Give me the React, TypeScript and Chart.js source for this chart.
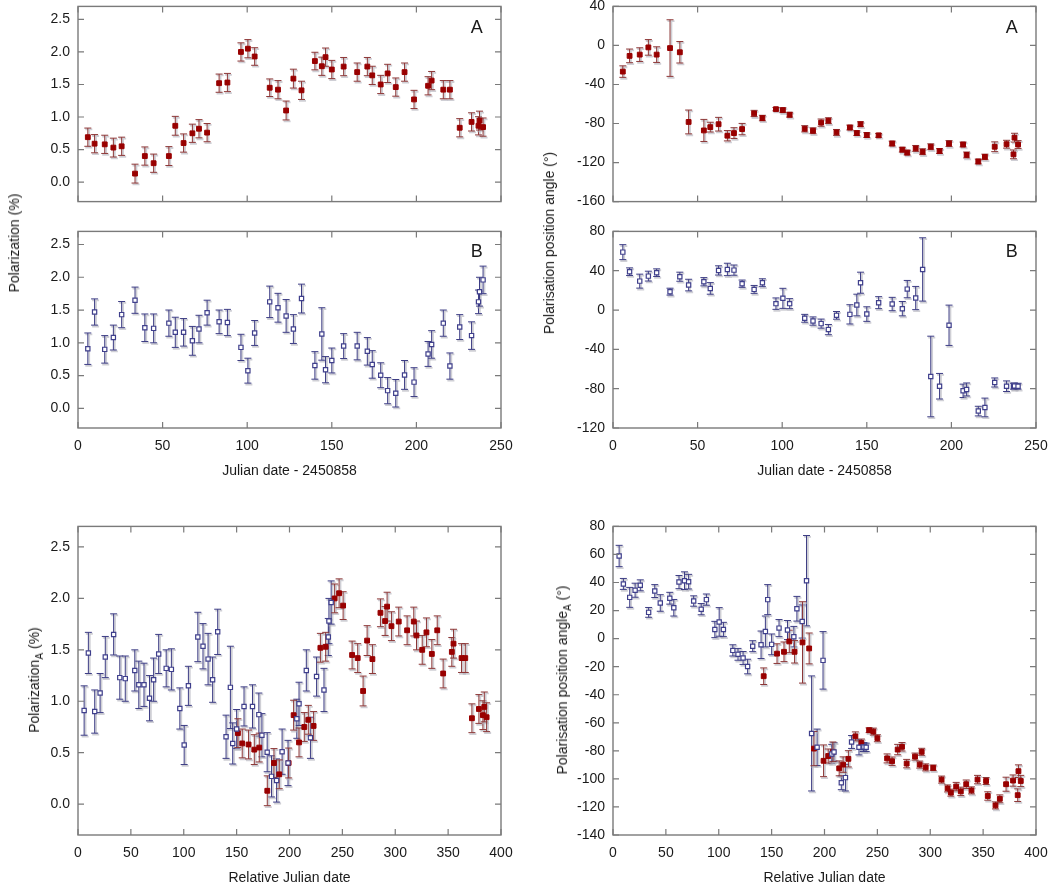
import React, { useEffect, useRef } from 'react';
import { Chart, registerables } from 'chart.js';

Chart.register(...registerables);

// ---------- data ----------
const dates = [5.8, 9.8, 15.8, 20.9, 25.8, 33.7, 39.5, 44.7, 53.7, 57.5, 62.4, 67.6, 71.5, 76.3, 83.4, 88.3, 96.3, 100.4, 104.4, 113.3, 118.2, 123, 127.3, 132.1, 140, 144.1, 146.3, 150, 157, 165, 171, 173.9, 178.9, 183, 187.8, 193, 198.6, 206.9, 209, 215.9, 219.8, 225.6, 232.6, 236.7, 237.3, 239.4];

const polA = [0.69, 0.59, 0.58, 0.53, 0.55, 0.13, 0.4, 0.29, 0.4, 0.865, 0.6, 0.75, 0.82, 0.76, 1.52, 1.53, 2.0, 2.05, 1.93, 1.45, 1.42, 1.1, 1.59, 1.41, 1.86, 1.78, 1.92, 1.73, 1.775, 1.69, 1.775, 1.64, 1.5, 1.67, 1.46, 1.69, 1.27, 1.48, 1.56, 1.42, 1.42, 0.835, 0.925, 0.865, 0.945, 0.845];
const polAErr = [0.14, 0.14, 0.14, 0.145, 0.14, 0.145, 0.14, 0.14, 0.145, 0.145, 0.14, 0.14, 0.14, 0.14, 0.14, 0.14, 0.14, 0.14, 0.135, 0.135, 0.14, 0.145, 0.145, 0.14, 0.135, 0.14, 0.14, 0.14, 0.14, 0.14, 0.14, 0.14, 0.14, 0.14, 0.14, 0.14, 0.14, 0.14, 0.14, 0.14, 0.14, 0.14, 0.14, 0.14, 0.145, 0.14];

const polB = [0.91, 1.47, 0.9, 1.08, 1.43, 1.65, 1.23, 1.22, 1.3, 1.16, 1.16, 1.03, 1.21, 1.46, 1.32, 1.31, 0.93, 0.575, 1.15, 1.625, 1.535, 1.41, 1.21, 1.675, 0.655, 1.135, 0.59, 0.73, 0.95, 0.95, 0.87, 0.67, 0.505, 0.27, 0.23, 0.51, 0.4, 0.83, 0.975, 1.3, 0.645, 1.24, 1.11, 1.625, 1.78, 1.96];
const polBErr = [0.24, 0.2, 0.21, 0.19, 0.2, 0.2, 0.21, 0.22, 0.2, 0.23, 0.21, 0.22, 0.21, 0.19, 0.18, 0.2, 0.2, 0.19, 0.19, 0.24, 0.22, 0.25, 0.22, 0.22, 0.21, 0.4, 0.2, 0.19, 0.19, 0.21, 0.21, 0.21, 0.19, 0.2, 0.21, 0.22, 0.22, 0.19, 0.21, 0.2, 0.2, 0.19, 0.21, 0.18, 0.22, 0.21];

const angA = [-26.8, -10.7, -9.4, -2, -9.4, -2.7, -7, -78.4, -87.1, -83.7, -80.7, -92.5, -89.8, -85.7, -69.7, -74.4, -65.3, -66.3, -71, -85.4, -87.4, -79.1, -77.1, -89.1, -84.1, -89.8, -80.7, -91.8, -92.1, -100.5, -106.8, -109.8, -105.5, -108.9, -103.8, -108.2, -100.5, -101.5, -112.2, -118.9, -114.2, -103.8, -101.2, -111.6, -94.5, -101.5];
const angAErr = [5.9, 7, 7, 8, 8, 29, 11, 12.2, 11.3, 5, 7, 5.3, 5.5, 5.8, 3.2, 2.8, 1.7, 2.5, 2.5, 3.2, 3, 3.7, 3, 3, 2.5, 2.5, 2.5, 2.5, 2, 2.5, 2.5, 2.5, 3, 3, 3, 2.5, 3, 2.5, 3, 2.5, 2.8, 5, 4, 4.5, 4.5, 4];

const angB = [58.9, 39, 29.4, 34.5, 38, 18.7, 33.9, 25.4, 28.8, 22, 40.3, 41.3, 40.6, 26.8, 21, 27.8, 6.5, 11.9, 6.5, -8.4, -11.2, -13.8, -19.9, -5.4, -4.4, 5.1, 27.8, -4.1, 7.5, 6.1, 1.4, 21.3, 12.2, 41.3, -67.6, -77.5, -15.5, -82.2, -80.8, -102.8, -99.1, -73.7, -77.5, -77.5, -77.2, -77.5];
const angBErr = [7.6, 3.9, 7.1, 5, 3.9, 3.5, 4.6, 5.9, 4.2, 5.9, 4.7, 6.3, 5.2, 3.7, 4, 4, 5.8, 10.2, 5.1, 4, 4.2, 4.6, 5.2, 3.9, 9.8, 11, 10.7, 7.4, 6.1, 6.8, 7.3, 8.8, 11.8, 32.2, 41, 13, 20.5, 6.8, 6.6, 4.9, 9.5, 4.6, 5.4, 3, 3, 3];

// relative (time-delay shifted) dates of the A image, as plotted in the lower panels
const relDatesPolA = [151.2, 155.3, 161.3, 166.7, 171.4, 179, 185.3, 190.3, 199.2, 203.9, 209, 214, 217.8, 222.8, 229.2, 234.2, 242.7, 246.9, 250.7, 259.2, 264.5, 269.6, 273.4, 278.4, 286, 290.4, 292.3, 296.4, 303.3, 311.2, 317.5, 320.1, 325.5, 329.5, 334.6, 339.7, 345.3, 353.5, 355.1, 362.7, 366.2, 372.5, 379.1, 382.9, 384.2, 386.4];
const relDatesAngA = [142.5, 155.1, 161.7, 166.7, 171.7, 179.2, 185.5, 190, 199.1, 203.5, 207.9, 213.9, 217.6, 222.6, 229.2, 234.9, 242.2, 246.2, 250, 259.2, 263.9, 269.2, 273.3, 277.7, 285.6, 290, 291.9, 295.7, 302.8, 310.7, 316.4, 319.5, 324.5, 328.9, 334, 339, 344.7, 352.8, 354.4, 361.7, 365.8, 371.7, 378.3, 382.7, 383.4, 385.6];

// tick values
const xTicksJD = [0, 50, 100, 150, 200, 250];
const xTicksRel = [0, 50, 100, 150, 200, 250, 300, 350, 400];
const polTicks = [0, 0.5, 1.0, 1.5, 2.0, 2.5];
const angTicksA = [-160, -120, -80, -40, 0, 40];
const angTicksB = [-120, -80, -40, 0, 40, 80];
const angTicksRel = [-140, -120, -100, -80, -60, -40, -20, 0, 20, 40, 60, 80];

// ---------- styling ----------
const FONT = '"Liberation Sans", Arial, Helvetica, sans-serif';
const RED = '#990000';
const RED_BAR = '#8c3636';
const BLUE = '#3f3f8c';
const BLUE_BAR = '#3c3c84';

const errorBarPlugin = {
  id: 'errorBars',
  beforeDatasetsDraw(chart: any) {
    const { ctx } = chart;
    const xs = chart.scales.x;
    const ys = chart.scales.y;
    chart.data.datasets.forEach((ds: any) => {
      const errs: number[] = ds.errors;
      if (!errs) return;
      ctx.save();
      const cw = 3.5;
      ds.data.forEach((p: any, j: number) => {
        const px = xs.getPixelForValue(p.x);
        const yt = ys.getPixelForValue(p.y + errs[j]);
        const yb = ys.getPixelForValue(p.y - errs[j]);
        // soft grey shadow
        ctx.strokeStyle = 'rgba(175,175,185,0.6)';
        ctx.lineWidth = 1.8;
        ctx.beginPath();
        ctx.moveTo(px + 1.4, yt + 1);
        ctx.lineTo(px + 1.4, yb + 1);
        ctx.moveTo(px - cw + 1, yt + 1.4);
        ctx.lineTo(px + cw + 1, yt + 1.4);
        ctx.moveTo(px - cw + 1, yb + 1.4);
        ctx.lineTo(px + cw + 1, yb + 1.4);
        ctx.stroke();
        // bar
        ctx.strokeStyle = ds.barColor;
        ctx.lineWidth = 1;
        ctx.beginPath();
        ctx.moveTo(px, yt);
        ctx.lineTo(px, yb);
        ctx.moveTo(px - cw, yt);
        ctx.lineTo(px + cw, yt);
        ctx.moveTo(px - cw, yb);
        ctx.lineTo(px + cw, yb);
        ctx.stroke();
      });
      ctx.restore();
    });
  },
};

const framePlugin = {
  id: 'frameTicks',
  afterDatasetsDraw(chart: any) {
    const { ctx, chartArea: a } = chart;
    const xs = chart.scales.x;
    const ys = chart.scales.y;
    ctx.save();
    ctx.strokeStyle = '#7a7a7a';
    ctx.lineWidth = 1.4;
    ctx.strokeRect(a.left, a.top, a.right - a.left, a.bottom - a.top);
    ctx.lineWidth = 1.2;
    ctx.beginPath();
    xs.ticks.forEach((t: any) => {
      const p = xs.getPixelForValue(t.value);
      ctx.moveTo(p, a.bottom);
      ctx.lineTo(p, a.bottom - 6);
      ctx.moveTo(p, a.top);
      ctx.lineTo(p, a.top + 6);
    });
    ys.ticks.forEach((t: any) => {
      const p = ys.getPixelForValue(t.value);
      ctx.moveTo(a.left, p);
      ctx.lineTo(a.left + 6, p);
      ctx.moveTo(a.right, p);
      ctx.lineTo(a.right - 6, p);
    });
    ctx.stroke();
    ctx.restore();
  },
};

type Series = { x: number[]; y: number[]; err: number[]; kind: 'A' | 'B' };

type PanelProps = {
  L: number; T: number; R: number; B: number;
  xMin: number; xMax: number; xTicks: number[]; showX: boolean;
  yMin: number; yMax: number; yTicks: number[]; yDec: number;
  series: Series[];
};

const YW = 75;
const PT = 15;
const PR = 22;

function Panel(p: PanelProps) {
  const ref = useRef<HTMLCanvasElement>(null);
  const XH = p.showX ? 45 : 15;
  const w = p.R - p.L + YW + PR;
  const h = p.B - p.T + PT + XH;

  useEffect(() => {
    if (!ref.current) return;
    const datasets = p.series.map((s) => ({
      data: s.x.map((xv, i) => ({ x: xv, y: s.y[i] })),
      errors: s.err,
      barColor: s.kind === 'A' ? RED_BAR : BLUE_BAR,
      pointStyle: 'rect',
      pointRadius: s.kind === 'A' ? 3.4 : 3.0,
      pointBackgroundColor: s.kind === 'A' ? RED : '#ffffff',
      pointBorderColor: s.kind === 'A' ? RED : BLUE,
      pointBorderWidth: s.kind === 'A' ? 1 : 1.2,
      showLine: false,
    }));
    const tickFont = { family: FONT, size: 14 };
    const chart = new Chart(ref.current, {
      type: 'scatter',
      data: { datasets: datasets as any },
      plugins: [errorBarPlugin, framePlugin],
      options: {
        responsive: false,
        animation: false,
        events: [],
        layout: { padding: { left: 0, right: PR, top: PT, bottom: 0 } },
        plugins: { legend: { display: false }, tooltip: { enabled: false } },
        scales: {
          x: {
            type: 'linear',
            position: 'bottom',
            min: p.xMin,
            max: p.xMax,
            grid: { display: false, drawTicks: false },
            border: { display: false },
            afterBuildTicks: (ax: any) => {
              ax.ticks = p.xTicks.map((v) => ({ value: v }));
            },
            afterFit: (ax: any) => {
              ax.height = XH;
            },
            ticks: {
              display: p.showX,
              padding: 10,
              font: tickFont,
              color: '#1a1a1a',
              maxRotation: 0,
              autoSkip: false,
              callback: (v: any) => String(v),
            },
          },
          y: {
            type: 'linear',
            position: 'left',
            min: p.yMin,
            max: p.yMax,
            grid: { display: false, drawTicks: false },
            border: { display: false },
            afterBuildTicks: (ax: any) => {
              ax.ticks = p.yTicks.map((v) => ({ value: v }));
            },
            afterFit: (ax: any) => {
              ax.width = YW;
            },
            ticks: {
              padding: 8,
              font: tickFont,
              color: '#1a1a1a',
              autoSkip: false,
              callback: (v: any) => Number(v).toFixed(p.yDec),
            },
          },
        },
      } as any,
    });
    return () => chart.destroy();
  }, []);

  return (
    <canvas
      ref={ref}
      width={w}
      height={h}
      style={{ position: 'absolute', left: p.L - YW, top: p.T - PT, width: w, height: h }}
    />
  );
}

function Label(props: { x: number; y: number; rotate?: boolean; size?: number; children: any }) {
  return (
    <div
      style={{
        position: 'absolute',
        left: props.x,
        top: props.y,
        transform: `translate(-50%, -50%)${props.rotate ? ' rotate(-90deg)' : ''}`,
        whiteSpace: 'nowrap',
        fontFamily: FONT,
        fontSize: props.size ?? 14,
        color: '#1a1a1a',
        lineHeight: 1,
      }}
    >
      {props.children}
    </div>
  );
}

const subStyle = { fontSize: 10, verticalAlign: 'sub' as const, lineHeight: 0 };

export default function App() {
  return (
    <div style={{ position: 'absolute', left: 0, top: 0, width: 1053, height: 889, background: '#ffffff', overflow: 'hidden' }}>
      <Panel L={78} T={5} R={501} B={203} xMin={0} xMax={250} xTicks={xTicksJD} showX={false}
        yMin={-0.3} yMax={2.7} yTicks={polTicks} yDec={1}
        series={[{ x: dates, y: polA, err: polAErr, kind: 'A' }]} />
      <Panel L={78} T={230} R={501} B={428} xMin={0} xMax={250} xTicks={xTicksJD} showX={true}
        yMin={-0.3} yMax={2.7} yTicks={polTicks} yDec={1}
        series={[{ x: dates, y: polB, err: polBErr, kind: 'B' }]} />
      <Panel L={613} T={5} R={1036} B={203} xMin={0} xMax={250} xTicks={xTicksJD} showX={false}
        yMin={-160} yMax={40} yTicks={angTicksA} yDec={0}
        series={[{ x: dates, y: angA, err: angAErr, kind: 'A' }]} />
      <Panel L={613} T={230} R={1036} B={428} xMin={0} xMax={250} xTicks={xTicksJD} showX={true}
        yMin={-120} yMax={80} yTicks={angTicksB} yDec={0}
        series={[{ x: dates, y: angB, err: angBErr, kind: 'B' }]} />
      <Panel L={78} T={525} R={501} B={835} xMin={0} xMax={400} xTicks={xTicksRel} showX={true}
        yMin={-0.3} yMax={2.7} yTicks={polTicks} yDec={1}
        series={[
          { x: dates, y: polB, err: polBErr, kind: 'B' },
          { x: relDatesPolA, y: polA, err: polAErr, kind: 'A' },
        ]} />
      <Panel L={613} T={525} R={1036} B={835} xMin={0} xMax={400} xTicks={xTicksRel} showX={true}
        yMin={-140} yMax={80} yTicks={angTicksRel} yDec={0}
        series={[
          { x: dates, y: angB, err: angBErr, kind: 'B' },
          { x: relDatesAngA, y: angA, err: angAErr, kind: 'A' },
        ]} />

      <Label x={476.7} y={26.7} size={18}>A</Label>
      <Label x={476.7} y={251} size={18}>B</Label>
      <Label x={1011.7} y={26.7} size={18}>A</Label>
      <Label x={1011.7} y={251} size={18}>B</Label>

      <Label x={14} y={243} rotate>Polarization (%)</Label>
      <Label x={549} y={243} rotate>Polarisation position angle (°)</Label>
      <Label x={289.5} y={470}>Julian date - 2450858</Label>
      <Label x={824.5} y={470}>Julian date - 2450858</Label>

      <Label x={34} y={680} rotate>
        Polarization<span style={subStyle}>A</span> (%)
      </Label>
      <Label x={561.7} y={680} rotate>
        Polarisation position angle<span style={subStyle}>A</span> (°)
      </Label>
      <Label x={289.5} y={877}>Relative Julian date</Label>
      <Label x={824.5} y={877}>Relative Julian date</Label>
    </div>
  );
}
